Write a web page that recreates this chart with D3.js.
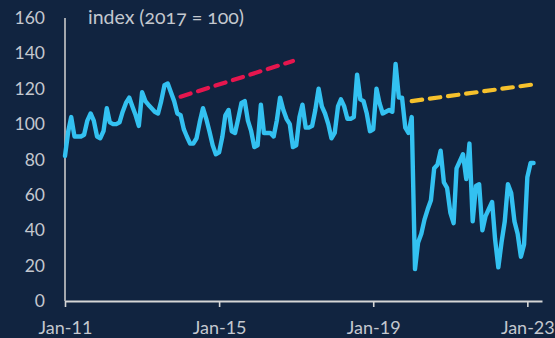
<!DOCTYPE html>
<html>
<head>
<meta charset="utf-8">
<script src="https://cdn.jsdelivr.net/npm/d3@7"></script>
<style>
  html, body { margin: 0; padding: 0; background: #112440; }
  svg { display: block; }
  text { font-family: Lato, "Open Sans", sans-serif; fill: #c4c8cf; }
</style>
</head>
<body>
<svg id="chart" width="555" height="338"></svg>
<script>
// Monthly index values (2017 = 100), January 2011 onwards
const seriesStart = "2011-01";
const indexValues = [
  82, 96, 104, 93, 93, 93, 94, 102, 106, 102, 93, 92,          // 2011
  96, 109, 101, 100, 100, 101, 107, 112, 115, 110, 105, 99,    // 2012
  118, 113, 111, 109, 107, 106, 113, 122, 123, 118, 113, 106,  // 2013
  105, 97, 93, 89, 89, 92, 101, 109, 103, 96, 88, 83,          // 2014
  84, 93, 105, 108, 96, 95, 103, 112, 113, 102, 96, 87,        // 2015
  88, 111, 95, 95, 95, 93, 102, 115, 108, 103, 100, 87,        // 2016
  88, 104, 111, 98, 98, 99, 108, 120, 110, 106, 100, 92,       // 2017
  95, 110, 114, 110, 103, 103, 104, 128, 114, 113, 106, 96,    // 2018
  97, 120, 112, 106, 107, 108, 107, 134, 115, 115, 98, 95,     // 2019
  104, 18, 33, 38, 46, 52, 57, 75, 77, 85, 67, 64,             // 2020
  50, 44, 75, 79, 83, 69, 89, 45, 65, 66, 40, 48,              // 2021
  52, 56, 35, 19, 33, 45, 66, 61, 45, 38, 25, 32,              // 2022
  70, 78, 78                                                   // 2023
];

// Pre-2017 and post-2020 trend lines (start, end)
const trendPre = [
  { month: "2014-01", value: 115.5 },
  { month: "2016-12", value: 135.7 }
];
const trendPost = [
  { month: "2020-01", value: 113 },
  { month: "2023-04", value: 122.7 }
];

const yTickValues = [0, 20, 40, 60, 80, 100, 120, 140, 160];
const xTickMonths = ["2011-01", "2015-01", "2019-01", "2023-01"];
const xTickLabels = ["Jan-11", "Jan-15", "Jan-19", "Jan-23"];
const titleText = "index (2017 = 100)";

const parseMonth = d3.timeParse("%Y-%m");
const t0 = parseMonth(seriesStart);
const series = indexValues.map((v, i) => ({ date: d3.timeMonth.offset(t0, i), value: v }));

const svg = d3.select("#chart");
const plot = { left: 65, right: 542, top: 18, bottom: 301 };

const x = d3.scaleTime()
  .domain([parseMonth("2011-01"), new Date(2023, 4, 20)])
  .range([plot.left, plot.right]);
const y = d3.scaleLinear().domain([0, 160]).range([plot.bottom, plot.top]);

// y axis: labels only plus a plain vertical rule
const yAxis = d3.axisLeft(y).tickValues(yTickValues).tickSize(0).tickPadding(20);
const gy = svg.append("g").attr("transform", `translate(${plot.left},0)`).call(yAxis);
gy.select(".domain").remove();
gy.selectAll("text").attr("font-size", 17.5).style("fill", "#c4c8cf")
  .attr("font-family", "Lato, 'Open Sans', sans-serif");
svg.append("line")
  .attr("x1", plot.left).attr("x2", plot.left).attr("y1", plot.top).attr("y2", plot.bottom)
  .attr("stroke", "#c9c9c9").attr("stroke-width", 1.6);

// x axis
const xAxis = d3.axisBottom(x)
  .tickValues(xTickMonths.map(parseMonth))
  .tickFormat((d, i) => xTickLabels[i])
  .tickSizeOuter(0).tickSizeInner(6).tickPadding(14);
const gx = svg.append("g").attr("transform", `translate(0,${plot.bottom})`).call(xAxis);
gx.select(".domain").attr("stroke", "#d6d6d6").attr("stroke-width", 2);
gx.selectAll(".tick line").attr("stroke", "#d6d6d6").attr("stroke-width", 1.6);
gx.selectAll("text").attr("font-size", 18).style("fill", "#c4c8cf")
  .attr("font-family", "Lato, 'Open Sans', sans-serif");

// title
svg.append("text")
  .attr("x", 88).attr("y", 24)
  .attr("font-size", 19.5)
  .style("font-variant-numeric", "oldstyle-nums")
  .text(titleText);

// main series
const line = d3.line().x(d => x(d.date)).y(d => y(d.value));
svg.append("path")
  .datum(series)
  .attr("fill", "none")
  .attr("stroke", "#33c1f1")
  .attr("stroke-width", 4.4)
  .attr("stroke-linejoin", "round")
  .attr("stroke-linecap", "round")
  .attr("d", line);

// trend lines
const trendLine = d3.line().x(d => x(parseMonth(d.month))).y(d => y(d.value));
svg.append("path")
  .datum(trendPre)
  .attr("fill", "none")
  .attr("stroke", "#e5164e")
  .attr("stroke-width", 4.2)
  .attr("stroke-linecap", "round")
  .attr("stroke-dasharray", "10.5 7.8")
  .attr("d", trendLine);
svg.append("path")
  .datum(trendPost)
  .attr("fill", "none")
  .attr("stroke", "#f6c12c")
  .attr("stroke-width", 4.2)
  .attr("stroke-linecap", "round")
  .attr("stroke-dasharray", "10.5 7.8")
  .attr("d", trendLine);
</script>
</body>
</html>
